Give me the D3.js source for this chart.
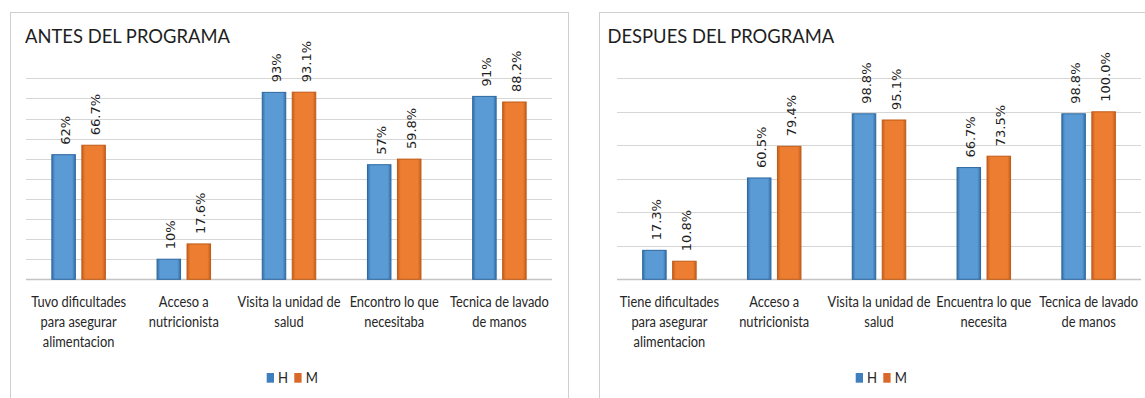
<!DOCTYPE html>
<html>
<head>
<meta charset="utf-8">
<script src="https://cdn.jsdelivr.net/npm/d3@7"></script>
<style>
  html, body { margin: 0; padding: 0; background: #fff; }
  svg { display: block; }
</style>
</head>
<body>
<svg id="chart" width="1145" height="398"></svg>
<script>
// ---- Data ----
const series = ["H", "M"];

const titleBefore = "ANTES DEL PROGRAMA";
const categoriesBefore = [
  ["Tuvo dificultades", "para asegurar", "alimentacion"],
  ["Acceso a", "nutricionista"],
  ["Visita la unidad de", "salud"],
  ["Encontro lo que", "necesitaba"],
  ["Tecnica de lavado", "de manos"]
];
const hBefore = [62, 10, 93, 57, 91];
const mBefore = [66.7, 17.6, 93.1, 59.8, 88.2];
const hBeforeLabels = ["62%", "10%", "93%", "57%", "91%"];
const mBeforeLabels = ["66.7%", "17.6%", "93.1%", "59.8%", "88.2%"];
const gridBefore = [0, 10, 20, 30, 40, 50, 60, 70, 80, 90, 100];

const titleAfter = "DESPUES DEL PROGRAMA";
const categoriesAfter = [
  ["Tiene dificultades", "para asegurar", "alimentacion"],
  ["Acceso a", "nutricionista"],
  ["Visita la unidad de", "salud"],
  ["Encuentra lo que", "necesita"],
  ["Tecnica de lavado", "de manos"]
];
const hAfter = [17.3, 60.5, 98.8, 66.7, 98.8];
const mAfter = [10.8, 79.4, 95.1, 73.5, 100.0];
const hAfterLabels = ["17.3%", "60.5%", "98.8%", "66.7%", "98.8%"];
const mAfterLabels = ["10.8%", "79.4%", "95.1%", "73.5%", "100.0%"];
const gridAfter = [0, 20, 40, 60, 80, 100, 120];

// ---- Drawing ----
const svg = d3.select("#chart");
const defs = svg.append("defs");

function grad(id, edge, base) {
  const g = defs.append("linearGradient").attr("id", id)
    .attr("x1", "0%").attr("x2", "100%").attr("y1", "0%").attr("y2", "0%");
  g.append("stop").attr("offset", "0%").attr("stop-color", edge);
  g.append("stop").attr("offset", "14%").attr("stop-color", base);
  g.append("stop").attr("offset", "86%").attr("stop-color", base);
  g.append("stop").attr("offset", "100%").attr("stop-color", edge);
}
grad("gH", "#3570aa", "#5b9bd5");
grad("gM", "#c5601c", "#ed7d31");
const fills = { H: "url(#gH)", M: "url(#gM)" };
const strokes = { H: "#2c679f", M: "#bf5a16" };
const legendColors = { H: "#3f7fbf", M: "#d8692a" };
const FONT = "Lato, 'Open Sans', sans-serif";

function drawPanel(cfg) {
  const g = svg.append("g");
  // panel border
  g.append("rect")
    .attr("x", cfg.px + 0.5).attr("y", 12.5)
    .attr("width", cfg.pw).attr("height", 420)
    .attr("fill", "#fff").attr("stroke", "#cfcfcf").attr("stroke-width", 1);

  // title (horizontally condensed to mimic Calibri)
  g.append("text")
    .attr("transform", `translate(${cfg.px + cfg.titleDx},43) scale(0.92,1)`)
    .attr("font-family", FONT)
    .attr("font-size", 20)
    .attr("fill", "#1e1e1e")
    .text(cfg.title);

  const y = d3.scaleLinear().domain([0, cfg.max]).range([279.3, 78.3]);
  const x = d3.scaleBand().domain(d3.range(cfg.categories.length))
    .range([cfg.x0, cfg.x1]).padding(0);

  // gridlines
  g.append("g").selectAll("line").data(cfg.grid).join("line")
    .attr("x1", cfg.x0).attr("x2", cfg.x1)
    .attr("y1", d => Math.round(y(d)) + 0.5).attr("y2", d => Math.round(y(d)) + 0.5)
    .attr("stroke", d => d === 0 ? "#c4c4c4" : "#d6d6d6")
    .attr("stroke-width", d => d === 0 ? 1.5 : 1);

  const groupW = 53.5;
  const rows = [];
  cfg.categories.forEach((c, i) => {
    const cx = x(i) + x.bandwidth() / 2;
    const x1 = d3.scaleBand().domain(series)
      .range([cx - groupW / 2, cx + groupW / 2]).paddingInner(0.2167).paddingOuter(0);
    rows.push({ i, s: "H", v: cfg.h[i], label: cfg.hLabels[i], x: x1("H"), w: x1.bandwidth() });
    rows.push({ i, s: "M", v: cfg.m[i], label: cfg.mLabels[i], x: x1("M"), w: x1.bandwidth() });
  });

  // bars
  g.append("g").selectAll("rect").data(rows).join("rect")
    .attr("x", d => d.x).attr("y", d => y(d.v))
    .attr("width", d => d.w).attr("height", d => y(0) - y(d.v))
    .attr("fill", d => fills[d.s])
    .attr("stroke", d => strokes[d.s]).attr("stroke-width", 1);

  // data labels
  g.append("g").selectAll("text").data(rows).join("text")
    .attr("transform", d => `translate(${d.x + d.w / 2 + 2},${y(d.v) - 10}) rotate(-90)`)
    .attr("dy", "0.35em")
    .attr("text-anchor", "start")
    .attr("font-family", "'DejaVu Sans', Verdana, sans-serif")
    .attr("font-size", 13)
    .attr("fill", "#1e1e1e")
    .text(d => d.label);

  // category labels
  const cl = g.append("g").selectAll("text").data(cfg.categories).join("text")
    .attr("transform", (d, i) => `translate(${x(i) + x.bandwidth() / 2},0) scale(0.88,1)`)
    .attr("text-anchor", "middle")
    .attr("font-family", FONT)
    .attr("font-size", 14.6)
    .attr("fill", "#262626");
  cl.each(function(lines) {
    d3.select(this).selectAll("tspan").data(lines).join("tspan")
      .attr("x", 0).attr("y", (d, k) => 307 + k * 20)
      .text(d => d);
  });

  // legend
  const lx = cfg.px + 256.7;
  const leg = g.append("g");
  const items = [
    { s: "H", sx: lx, tx: lx + 11.3 },
    { s: "M", sx: lx + 27.6, tx: lx + 39 }
  ];
  leg.selectAll("rect").data(items).join("rect")
    .attr("x", d => d.sx).attr("y", 373).attr("width", 7.3).attr("height", 9.7)
    .attr("fill", d => legendColors[d.s]);
  leg.selectAll("text").data(items).join("text")
    .attr("transform", d => `translate(${d.tx},383) scale(0.9,1)`)
    .attr("font-family", FONT)
    .attr("font-size", 14.6)
    .attr("fill", "#262626")
    .text(d => d.s);
}

drawPanel({
  px: 10, pw: 558, titleDx: 15, title: titleBefore,
  x0: 26, x1: 552, max: 100, grid: gridBefore,
  categories: categoriesBefore, h: hBefore, m: mBefore,
  hLabels: hBeforeLabels, mLabels: mBeforeLabels
});
drawPanel({
  px: 599, pw: 560, titleDx: 8.5, title: titleAfter,
  x0: 617, x1: 1141, max: 120, grid: gridAfter,
  categories: categoriesAfter, h: hAfter, m: mAfter,
  hLabels: hAfterLabels, mLabels: mAfterLabels
});
</script>
</body>
</html>
